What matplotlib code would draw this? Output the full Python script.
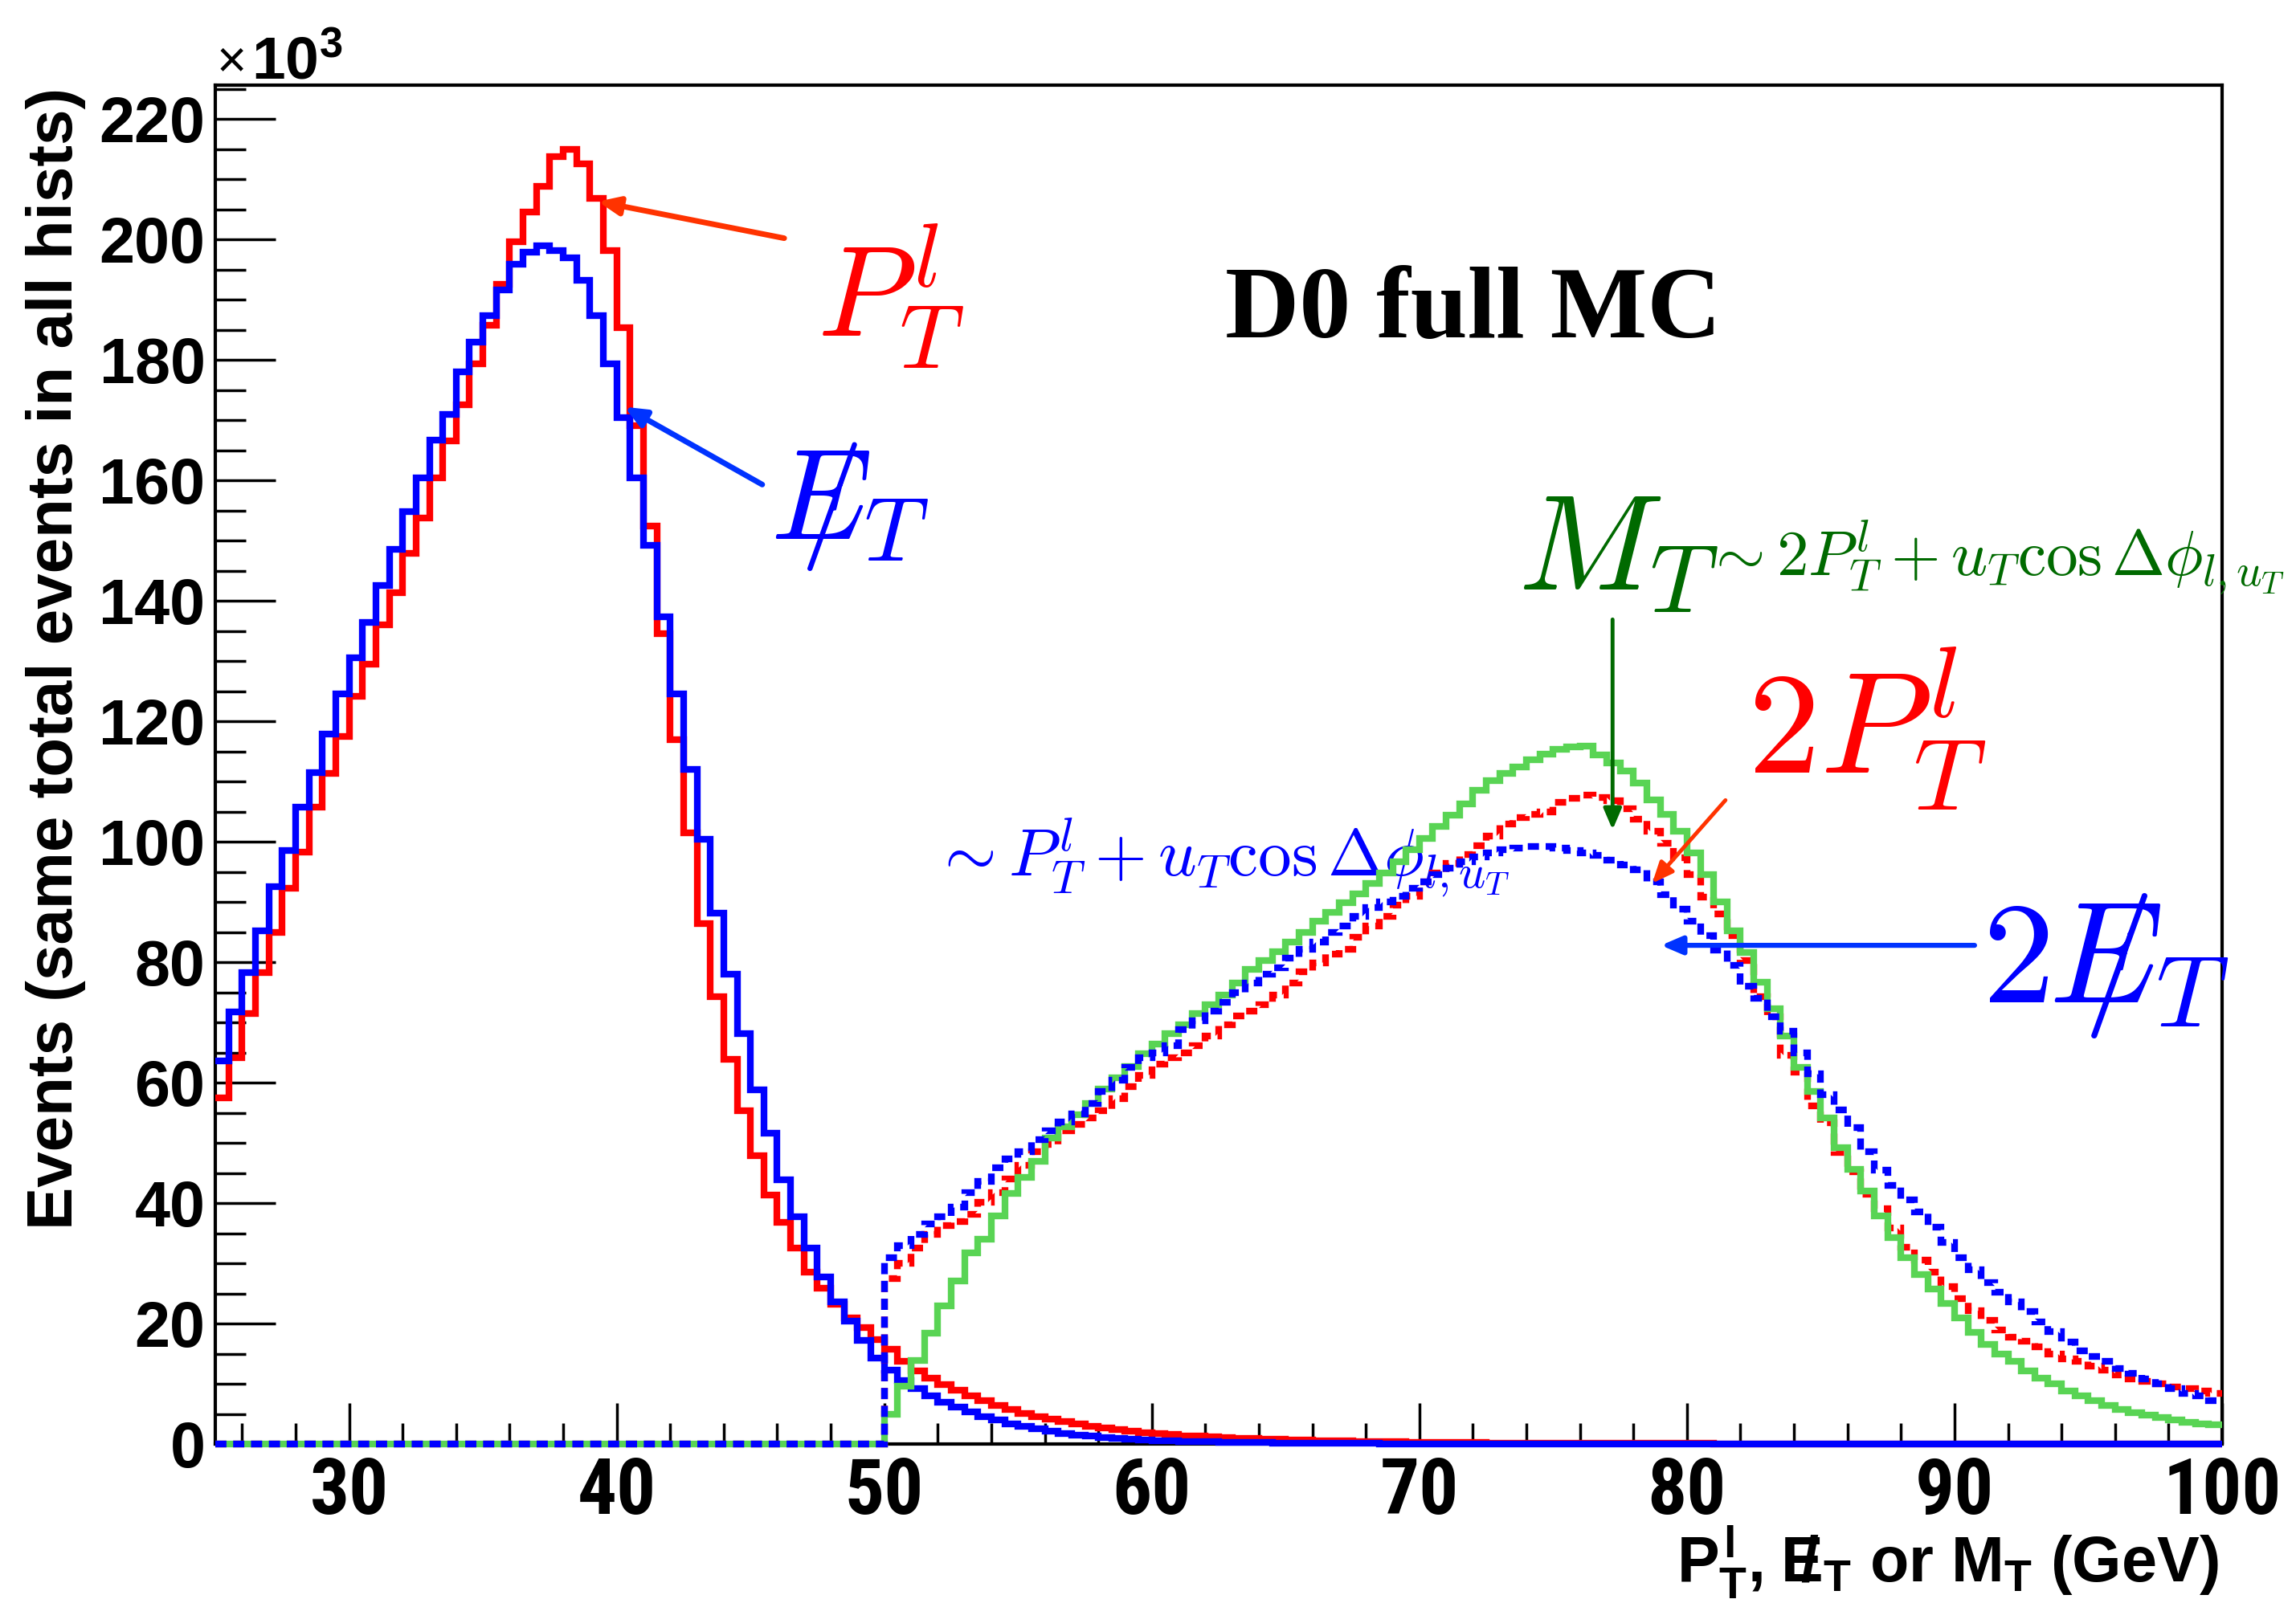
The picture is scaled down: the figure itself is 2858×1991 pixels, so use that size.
import numpy as np
import matplotlib
matplotlib.use("Agg")
import matplotlib.pyplot as plt
from matplotlib.ticker import MultipleLocator

plt.rcParams['font.family'] = ['Liberation Sans', 'DejaVu Sans']
plt.rcParams['mathtext.fontset'] = 'cm'
# sans bold math for the axis title and the exponent
plt.rcParams['mathtext.rm'] = 'Liberation Sans:bold'
plt.rcParams['mathtext.it'] = 'Liberation Sans:bold'
plt.rcParams['mathtext.bf'] = 'Liberation Sans:bold'
plt.rcParams['lines.scale_dashes'] = False

# 150 bins of 0.5 GeV from 25 to 100 GeV, contents in 10^3 events
x_lo, x_hi, n_bins = 25.0, 100.0, 150

pt_lep = [
    57.5, 64.1, 71.5, 78.3, 85.0, 92.3, 98.3, 105.7, 111.4, 117.5,
    124.2, 129.5, 136.0, 141.4, 147.9, 153.8, 160.4, 166.5, 172.5, 179.4,
    185.8, 192.5, 199.6, 204.5, 208.8, 213.7, 214.9, 212.6, 206.8, 198.1,
    185.3, 169.1, 152.4, 134.6, 117.0, 101.5, 86.4, 74.3, 63.9, 55.4,
    47.9, 41.4, 36.8, 32.5, 28.5, 25.9, 23.2, 20.9, 19.3, 17.4,
    15.7, 13.7, 12.2, 11.0, 9.9, 8.9, 8.0, 7.2, 6.4, 5.8,
    5.1, 4.6, 4.1, 3.7, 3.3, 3.0, 2.7, 2.4, 2.1, 1.9,
    1.7, 1.55, 1.4, 1.3, 1.2, 1.1, 1.0, 0.92, 0.85, 0.78,
    0.72, 0.66, 0.6, 0.55, 0.5, 0.46, 0.42, 0.39, 0.36, 0.33,
    0.3, 0.28, 0.26, 0.24, 0.22, 0.2, 0.19, 0.18, 0.17, 0.16,
    0.15, 0.14, 0.13, 0.12, 0.12, 0.11, 0.1, 0.1, 0.09, 0.09,
    0.08, 0.08, 0.07, 0.07, 0.07, 0.06, 0.06, 0.06, 0.05, 0.05,
    0.05, 0.05, 0.04, 0.04, 0.04, 0.04, 0.03, 0.03, 0.03, 0.03,
    0.03, 0.03, 0.02, 0.02, 0.02, 0.02, 0.02, 0.02, 0.02, 0.02,
    0.01, 0.01, 0.01, 0.01, 0.01, 0.01, 0.01, 0.01, 0.01, 0.01,
]

met = [
    63.6, 71.8, 78.3, 85.2, 92.6, 98.6, 105.7, 111.5, 117.9, 124.5,
    130.6, 136.4, 142.6, 148.6, 154.8, 160.4, 166.7, 170.9, 178.0, 182.9,
    187.4, 191.6, 195.9, 197.9, 198.9, 198.1, 197.0, 193.2, 187.4, 179.4,
    170.4, 160.4, 149.2, 137.4, 124.5, 112.0, 100.4, 88.2, 78.0, 68.1,
    58.8, 51.6, 43.9, 37.7, 32.6, 27.7, 23.6, 20.4, 17.2, 14.3,
    12.3, 10.5, 9.2, 8.0, 7.0, 6.1, 5.3, 4.6, 4.0, 3.4,
    2.9, 2.5, 2.1, 1.8, 1.5, 1.3, 1.1, 0.9, 0.8, 0.7,
    0.6, 0.5, 0.45, 0.4, 0.35, 0.3, 0.27, 0.24, 0.21, 0.19,
    0.17, 0.15, 0.13, 0.12, 0.1, 0.09, 0.08, 0.07, 0.06, 0.05,
    0.05, 0.04, 0.04, 0.03, 0.03, 0.03, 0.02, 0.02, 0.02, 0.02,
    0.01, 0.01, 0.01, 0.01, 0.01, 0.01, 0.01, 0.01, 0.01, 0.01,
    0.01, 0.01, 0.01, 0.01, 0.01, 0.01, 0.01, 0.01, 0.01, 0.01,
    0.0, 0.0, 0.0, 0.0, 0.0, 0.0, 0.0, 0.0, 0.0, 0.0,
    0.0, 0.0, 0.0, 0.0, 0.0, 0.0, 0.0, 0.0, 0.0, 0.0,
    0.0, 0.0, 0.0, 0.0, 0.0, 0.0, 0.0, 0.0, 0.0, 0.0,
]

# doubled quantities and transverse mass only populate 50-100 GeV
two_pt_lep = [0.0] * 50 + [
    27.5, 30.0, 32.5, 34.8, 36.3, 37.0, 38.2, 40.1, 41.7, 44.0,
    46.3, 48.5, 49.7, 52.0, 53.1, 54.1, 55.4, 57.4, 59.3, 61.2,
    63.1, 64.2, 65.0, 66.1, 67.7, 69.6, 71.1, 71.9, 73.0, 74.6,
    76.5, 78.4, 79.9, 81.4, 82.2, 84.1, 86.0, 87.6, 89.5, 91.0,
    93.3, 94.8, 96.4, 97.9, 99.4, 101.0, 102.9, 104.0, 104.6, 105.0,
    106.6, 107.2, 107.7, 107.4, 106.8, 105.5, 103.8, 101.8, 99.7, 97.3,
    94.5, 90.8, 88.0, 84.4, 80.3, 74.3, 71.0, 64.6, 61.8, 56.1,
    53.3, 48.4, 45.2, 41.5, 39.1, 35.9, 32.7, 30.6, 28.6, 26.2,
    24.2, 22.2, 20.5, 18.9, 17.7, 17.1, 16.1, 14.9, 14.2, 13.7,
    12.9, 12.3, 11.5, 10.8, 10.4, 10.0, 9.5, 9.2, 8.8, 8.4,
]

two_met = [0.0] * 50 + [
    30.9, 32.9, 34.8, 36.5, 37.7, 39.4, 41.7, 43.6, 45.9, 47.4,
    48.5, 50.5, 52.0, 53.5, 54.8, 56.6, 58.5, 60.4, 62.5, 64.2,
    65.0, 66.1, 68.8, 70.3, 71.9, 73.4, 74.9, 76.5, 78.0, 79.1,
    80.7, 82.2, 83.4, 84.9, 86.0, 87.6, 89.1, 90.0, 91.0, 92.3,
    93.3, 94.5, 95.6, 96.7, 97.5, 98.1, 98.7, 99.0, 99.2, 99.2,
    99.0, 98.5, 98.1, 97.7, 96.9, 96.1, 95.3, 93.3, 91.2, 88.8,
    86.8, 84.4, 82.0, 79.5, 76.0, 74.0, 71.0, 68.5, 65.0, 61.5,
    58.0, 55.5, 52.5, 48.5, 45.5, 43.0, 40.5, 38.5, 36.0, 33.5,
    31.0, 29.0, 26.8, 25.2, 23.6, 22.0, 20.3, 18.7, 16.9, 15.5,
    14.5, 13.7, 12.5, 11.7, 10.8, 10.0, 9.2, 8.4, 8.0, 7.2,
]

mt = [0.0] * 50 + [
    5.0, 9.6, 13.9, 18.4, 22.9, 27.1, 31.7, 34.0, 37.9, 41.6,
    44.3, 47.0, 50.8, 52.7, 54.7, 56.6, 58.9, 60.8, 62.7, 64.8,
    66.4, 68.1, 69.6, 71.5, 73.0, 74.6, 76.5, 78.8, 80.3, 81.8,
    83.4, 84.9, 86.8, 88.3, 89.9, 91.4, 93.1, 94.8, 96.7, 98.7,
    100.6, 102.5, 104.4, 106.3, 108.6, 110.1, 111.3, 112.4, 113.6, 114.6,
    115.3, 115.7, 115.9, 114.4, 113.1, 111.7, 109.8, 107.0, 104.6, 101.8,
    98.1, 94.5, 90.0, 85.2, 81.6, 76.7, 72.3, 67.8, 62.6, 58.5,
    54.1, 49.2, 45.6, 42.0, 37.9, 34.3, 31.0, 28.2, 25.8, 23.4,
    20.9, 18.5, 16.5, 14.9, 13.7, 12.1, 10.9, 10.0, 8.8, 8.0,
    7.2, 6.4, 5.8, 5.2, 4.8, 4.4, 4.0, 3.6, 3.4, 3.2,
]

x_ticks = [30, 40, 50, 60, 70, 80, 90, 100]
y_ticks = [0, 20, 40, 60, 80, 100, 120, 140, 160, 180, 200, 220]

RED = '#ff0000'
BLUE = '#0000ff'
GREEN = '#59d454'
DKGREEN = '#006a00'
ARROW_RED = '#ff3300'
ARROW_BLUE = '#0033ff'
NARROW = ['Roboto Condensed', 'Liberation Sans Narrow', 'Liberation Sans']

edges = np.linspace(x_lo, x_hi, n_bins + 1)

fig = plt.figure(figsize=(28.58, 19.91), dpi=100)
ax = fig.add_axes([0.0938, 0.0969, 0.8740, 0.8498])

dash = (0, (10, 6))
hists = [
    (pt_lep, RED, '-', 3.0),
    (met, BLUE, '-', 3.1),
    (two_pt_lep, RED, dash, 3.2),
    (mt, GREEN, '-', 3.3),
    (two_met, BLUE, dash, 3.4),
]
for vals, col, ls, z in hists:
    ax.stairs(vals, edges, baseline=None, color=col, lw=6, linestyle=ls,
              zorder=z, clip_on=False)

ax.set_xlim(x_lo, x_hi)
ax.set_ylim(0, 225.6)

ax.set_xticks(x_ticks, [str(v) for v in x_ticks], fontsize=70,
              fontweight='bold', family=NARROW)
ax.xaxis.set_minor_locator(MultipleLocator(2))
ax.set_yticks(y_ticks, [str(v) for v in y_ticks], fontsize=57,
              fontweight='bold')
ax.yaxis.set_minor_locator(MultipleLocator(5))

ax.tick_params(axis='y', which='major', direction='in', length=54, width=2.5,
               pad=9)
ax.tick_params(axis='y', which='minor', direction='in', length=27, width=2.5)
ax.tick_params(axis='x', which='major', direction='in', length=37, width=2.5,
               pad=11)
ax.tick_params(axis='x', which='minor', direction='in', length=19, width=2.5)
for sp in ax.spines.values():
    sp.set_linewidth(3)

# axis titles and exponent
fig.text(0.0243, 0.9453, 'Events (same total events in all hists)',
         rotation=90, ha='center', va='top', fontsize=57.5,
         fontweight='bold')
fig.text(0.9661, 0.011, r'$P_{T}^{l}$,  $/\!\!\!\!E_{T}$ or $M_{T}$ (GeV)',
         ha='right', va='baseline', fontsize=57, fontweight='bold',
         math_fontfamily='custom')
fig.text(270 / 2858, 1 - 96 / 1991, '×', ha='left', va='baseline',
         fontsize=46)
fig.text(313 / 2858, 1 - 98 / 1991, r'10$^{3}$', ha='left', va='baseline',
         fontsize=54, fontweight='bold', math_fontfamily='custom')

# title
ax.text(62.75, 183.7, 'D0 full MC', fontsize=92, fontweight='bold',
        family=['Liberation Serif', 'DejaVu Serif'], ha='left', va='baseline')

# curve labels (missing E_T written as a slash struck through E)
ax.text(47.5, 183.9, r'$P_T^l$', color=RED, fontsize=115, va='baseline')
ax.text(45.9, 150.3, r'$/\!\!\!\!\!E_T$', color=BLUE, fontsize=115,
        va='baseline')
ax.text(73.66, 141.8, r'$M_T$', color=DKGREEN, fontsize=122, va='baseline')
ax.text(80.67, 144.2, r'$\sim 2P_T^l + u_T\cos\Delta\phi_{l,u_T}$',
        color=DKGREEN, fontsize=57, va='baseline')
ax.text(82.26, 111.3, r'$2P_T^l$', color=RED, fontsize=130, va='baseline')
ax.text(91.03, 73.3, r'$2\:/\!\!\!\!\!E_T$', color=BLUE, fontsize=130,
        va='baseline')
ax.text(51.8, 94.3, r'$\sim P_T^l + u_T\cos\Delta\phi_{l,u_T}$',
        color=BLUE, fontsize=60, va='baseline')

# arrows pointing at the curves
arrows = [
    ((46.26, 200.2), (39.3, 206.3), ARROW_RED, 5),
    ((45.44, 159.3), (40.29, 172.2), ARROW_BLUE, 5),
    ((77.22, 136.9), (77.22, 102.0), DKGREEN, 3.5),
    ((81.44, 106.9), (78.70, 93.1), ARROW_RED, 3.5),
    ((90.75, 82.8), (79.03, 82.8), ARROW_BLUE, 4.5),
]
for tail, head, col, lw in arrows:
    ax.annotate('', xy=head, xytext=tail,
                arrowprops=dict(arrowstyle='-|>,head_length=0.35,head_width=0.15',
                                mutation_scale=45, color=col, lw=lw,
                                shrinkA=0, shrinkB=0),
                zorder=5)

fig.savefig('out.png', dpi=100)
